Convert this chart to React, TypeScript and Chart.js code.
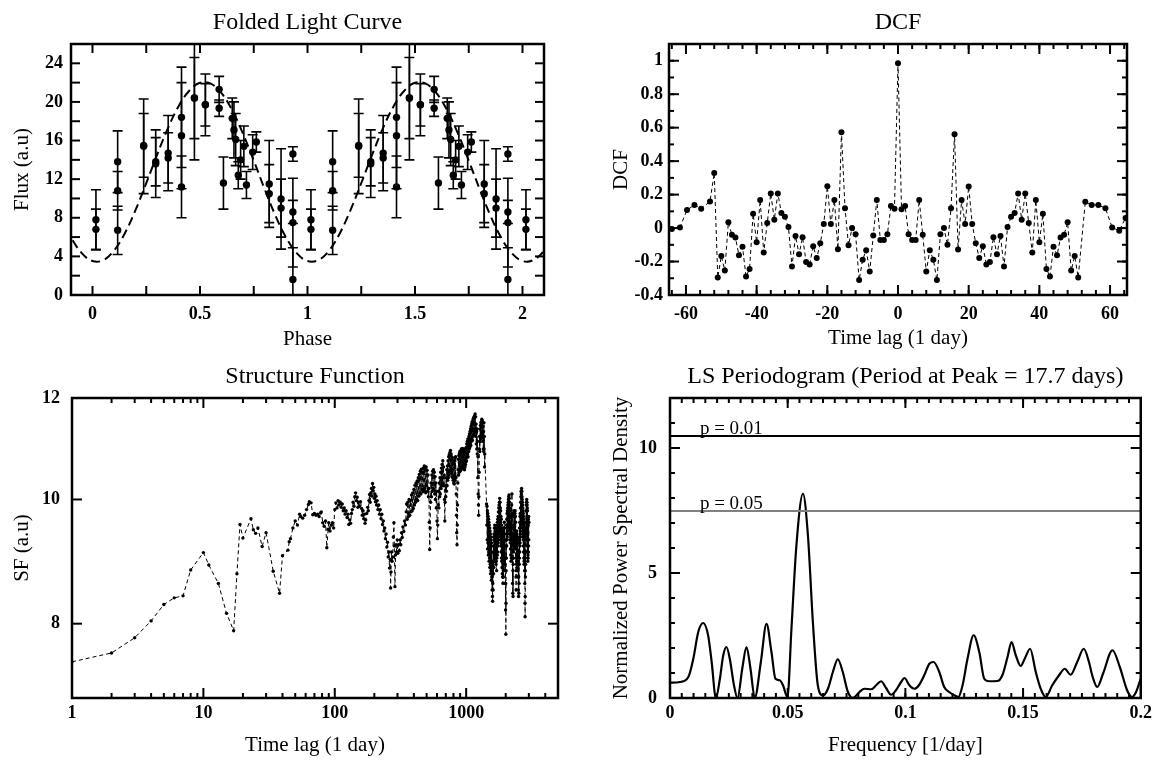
import React, { useEffect, useRef } from "react";
import { Chart, registerables } from "chart.js";

Chart.register(...registerables);

const W = 1157;
const H = 761;
const SERIF = '"Liberation Serif", "Times New Roman", Times, serif';
const AXW = 60; // width reserved for y tick labels
const AXH = 40; // height reserved for x tick labels

// ---------------- Folded light curve ----------------
const LC_PHASE = [0.016, 0.016, 0.117, 0.117, 0.117, 0.238, 0.238, 0.294, 0.294, 0.352, 0.352, 0.414, 0.414, 0.414, 0.474, 0.474, 0.525, 0.525, 0.589, 0.589, 0.609, 0.650, 0.658, 0.666, 0.678, 0.689, 0.704, 0.716, 0.745, 0.762, 0.822, 0.822, 0.877, 0.877, 0.932, 0.932, 0.932, 0.932];
const LC_FLUX = [7.8, 6.8, 13.8, 10.8, 6.7, 15.4, 15.5, 13.6, 13.8, 14.7, 14.2, 18.4, 16.5, 11.2, 20.4, 20.4, 19.7, 19.7, 21.3, 19.35, 11.6, 18.3, 17.1, 16.1, 12.4, 14.0, 15.4, 11.4, 14.8, 15.85, 11.5, 10.5, 9.95, 9.0, 14.6, 8.6, 7.5, 1.6];
const LC_ERR = [3.1, 2.1, 3.2, 2.0, 2.5, 4.9, 3.3, 3.5, 2.5, 3.9, 2.6, 5.2, 5.5, 3.2, 4.2, 6.4, 3.2, 2.2, 1.35, 0.85, 2.7, 2.1, 2.9, 2.7, 1.4, 2.0, 2.1, 1.4, 1.8, 1.05, 4.5, 3.0, 5.2, 3.0, 0.75, 1.2, 4.6, 3.3];
const MODEL_PHASE = [0, 0.05, 0.1, 0.15, 0.2, 0.25, 0.3, 0.35, 0.4, 0.45, 0.5, 0.55, 0.6, 0.65, 0.7, 0.75, 0.8, 0.85, 0.9, 0.95];
const MODEL_FLUX = [3.52, 3.61, 4.6, 6.38, 8.79, 11.58, 14.49, 17.23, 19.53, 21.16, 21.98, 21.89, 20.9, 19.12, 16.71, 13.92, 11.01, 8.27, 5.97, 4.34];
const LC_X_LABELS = [0, 0.5, 1, 1.5, 2];
const LC_Y_LABELS = [0, 4, 8, 12, 16, 20, 24];
const LC_CYCLES = [-1, 0, 1, 2];

// ---------------- DCF ----------------
const DCF_POINTS: [number, number][] = [
  [-66, 0.06], [-64, -0.006], [-61.7, 0.004], [-59.7, 0.108], [-57.6, 0.138], [-55.7, 0.116], [-53.2, 0.159],
  [-52, 0.329], [-51, -0.295], [-50, -0.167], [-49, -0.254], [-48, 0.035], [-47, -0.04], [-46, -0.057], [-45, -0.163],
  [-44, -0.112], [-43, -0.29], [-42, -0.244], [-41, 0.085], [-40, -0.085], [-39, 0.167], [-38, -0.146], [-37, 0.03],
  [-36, 0.207], [-35, 0.05], [-34, 0.207], [-33, 0.09], [-32, 0.067], [-31, 0.006], [-30, -0.23], [-29, -0.047],
  [-28, -0.157], [-27, -0.055], [-26, -0.203], [-25, -0.217], [-24, -0.108], [-23, -0.179], [-22, -0.091], [-21, 0.024],
  [-20, 0.25], [-19, 0.024], [-18, 0.167], [-17, -0.126], [-16, 0.573], [-15, 0.118], [-14, -0.102], [-13, 0],
  [-12, -0.037], [-11, -0.311], [-10, -0.189], [-9, -0.132], [-8, -0.26], [-7, -0.045], [-6, 0.167], [-5, -0.071],
  [-4, -0.071], [-3, -0.037], [-2, 0.132], [-1, 0.116], [0, 0.985], [1, 0.112], [2, 0.132], [3, -0.037],
  [4, -0.071], [5, -0.071], [6, 0.167], [7, -0.04], [8, -0.26], [9, -0.132], [10, -0.189], [11, -0.311],
  [12, -0.037], [13, 0], [14, -0.1], [15, 0.118], [16, 0.56], [17, -0.128], [18, 0.167], [19, 0.024],
  [20, 0.248], [21, 0.024], [22, -0.091], [23, -0.179], [24, -0.108], [25, -0.217], [26, -0.203], [27, -0.055],
  [28, -0.157], [29, -0.047], [30, -0.23], [31, 0.006], [32, 0.067], [33, 0.09], [34, 0.207], [35, 0.05],
  [36, 0.207], [37, 0.03], [38, -0.146], [39, 0.167], [40, -0.085], [41, 0.085], [42, -0.244], [43, -0.29],
  [44, -0.112], [45, -0.163], [46, -0.057], [47, -0.04], [48, 0.035], [49, -0.254], [50, -0.167], [51, -0.295],
  [53, 0.157], [54.8, 0.138], [56.7, 0.138], [58.7, 0.118], [60.6, 0.004], [62.6, -0.016], [64.4, 0.06],
];
const DCF_X_LABELS = [-60, -40, -20, 0, 20, 40, 60];
const DCF_Y_LABELS = [-0.4, -0.2, 0, 0.2, 0.4, 0.6, 0.8, 1];

// ---------------- Structure function ----------------
// sparse part: [lag (days), SF]
const SF_POINTS: [number, number][] = [
  [1, 7.47], [2, 7.59], [3, 7.8], [4, 8.04], [5, 8.28], [6, 8.38], [7, 8.41], [8, 8.81], [10, 9.09], [11, 8.89],
  [13, 8.6], [15, 8.15], [17, 7.9], [18, 8.75], [19, 9.56], [20, 9.33], [23, 9.66], [24, 9.47], [25, 9.41], [26, 9.5],
  [28, 9.19], [30, 9.42], [34, 8.79], [38, 8.45], [40, 9.04], [44, 9.13], [45, 9.27], [46, 9.32], [48, 9.5], [50, 9.62],
  [52, 9.55], [54, 9.74], [55, 9.7], [57, 9.67], [59, 9.72], [61, 9.82], [63, 9.91], [64, 9.96], [66, 9.94], [68, 9.73],
  [70, 9.75], [72, 9.72], [74, 9.74], [76, 9.7], [78, 9.76], [79, 9.78], [81, 9.59], [83, 9.53], [85, 9.62], [87, 9.17],
  [89, 9.48], [90, 9.59], [92, 9.45], [94, 9.55], [96, 9.59], [98, 9.5], [100, 9.82],
  [102, 9.94], [104, 9.85], [106, 9.98], [108, 9.9], [110, 9.95], [112, 9.86], [114, 9.92], [116, 9.8], [118, 9.85], [120, 9.74],
  [122, 9.8], [124, 9.68], [126, 9.74], [128, 9.56], [130, 9.64], [132, 9.58], [134, 9.75], [136, 9.82], [138, 9.95], [140, 9.88],
  [142, 10.05], [144, 10.12], [146, 9.98], [148, 10.04], [150, 9.86], [152, 9.95], [154, 9.88], [157, 9.96], [160, 9.84], [162, 9.72],
  [164, 9.8], [166, 9.66], [168, 9.74], [170, 9.58], [172, 9.64], [175, 9.75], [178, 9.86], [180, 9.8], [182, 9.98], [184, 10.09],
  [186, 9.95], [188, 10.12], [190, 10.2], [192, 10.06], [194, 10.29], [196, 10.16], [198, 10.22], [200, 10.02], [202, 10.1], [204, 9.96],
  [206, 10.06], [208, 9.9], [210, 9.98], [213, 9.82], [216, 9.9], [219, 9.74], [222, 9.82], [225, 9.66], [228, 9.74], [231, 9.56],
  [234, 9.62], [237, 9.45], [240, 9.5], [243, 9.32], [246, 9.4], [249, 9.18], [252, 9.26], [255, 9.02], [258, 9.1], [261, 8.84],
  [264, 8.98], [266, 8.53], [268, 8.78], [270, 9.1], [273, 8.95], [276, 9.02], [279, 9.35], [282, 9.59], [284, 9.2], [287, 8.55],
  [290, 9.05], [293, 9.22], [296, 9.1], [299, 9.3], [302, 9.08], [306, 9.22], [310, 9.12], [314, 9.3], [318, 9.22], [322, 9.42],
  [326, 9.34], [330, 9.52], [335, 9.44], [340, 9.62], [345, 9.55], [350, 9.78],
];
// dense part A: lags 352..1000 every 4 days
const SF_A_START = 352;
const SF_A_STEP = 4;
const SF_A_VALUES = [
  9.92, 9.65, 9.95, 9.7, 10.0, 9.72, 9.98, 9.78, 10.08, 9.8,
  10.12, 9.84, 10.18, 9.9, 10.26, 9.95, 10.3, 10.0, 10.34, 9.98,
  10.4, 10.06, 10.46, 10.12, 10.52, 10.1, 10.56, 10.18, 10.5, 10.14,
  10.58, 10.16, 10.62, 10.2, 10.55, 10.12, 10.6, 10.25, 10.54, 10.15,
  10.45, 10.05, 10.2, 9.6, 9.14, 9.5, 9.95, 10.3, 10.05, 10.45,
  10.15, 10.52, 10.2, 10.55, 10.18, 10.5, 10.1, 10.42, 10.0, 10.3,
  9.85, 10.15, 9.62, 9.32, 9.55, 9.9, 10.15, 9.85, 10.3, 10.05,
  10.4, 10.1, 10.5, 10.2, 10.58, 10.25, 10.65, 10.3, 10.72, 10.4,
  10.6, 10.25, 10.45, 10.0, 9.62, 9.95, 10.25, 10.05, 10.4, 10.15,
  10.55, 10.25, 10.62, 10.35, 10.72, 10.4, 10.8, 10.45, 10.84, 10.5,
  10.88, 10.52, 10.92, 10.55, 10.85, 10.48, 10.8, 10.42, 10.78, 10.4,
  10.72, 10.35, 10.7, 10.3, 10.66, 10.28, 10.72, 10.35, 10.78, 10.42,
  10.8, 10.4, 10.1, 9.72, 9.42, 9.22, 9.55, 9.9, 10.3, 10.55,
  10.75, 10.45, 10.82, 10.5, 10.86, 10.55, 10.9, 10.52, 10.88, 10.58,
  10.92, 10.55, 10.95, 10.6, 10.9, 10.58, 10.96, 10.62, 10.92, 10.6,
  10.95, 10.62, 10.9, 10.58, 10.94, 10.55, 10.88, 10.6, 10.92, 10.65,
  10.95, 10.7, 10.98,
];
// dense part B: lags 1005..1385 every 5 days
const SF_B_START = 1005;
const SF_B_STEP = 5;
const SF_B_VALUES = [
  10.72, 11.05, 10.78, 11.1, 10.85, 11.15, 10.8, 11.12, 10.9, 11.2,
  10.95, 11.25, 10.98, 11.3, 11.05, 11.35, 11.02, 11.4, 11.1, 11.45,
  11.15, 11.5, 11.12, 11.48, 11.2, 11.55, 11.25, 11.58, 11.22, 11.6,
  11.3, 11.62, 11.35, 11.66, 11.28, 11.6, 11.2, 11.45, 11.05, 11.3,
  10.95, 11.35, 10.85, 11.1, 10.4, 10.8, 10.1, 9.9, 9.72, 10.05,
  10.5, 10.95, 11.2, 10.9, 11.35, 11.1, 11.42, 11.15, 11.48, 11.2,
  11.5, 11.22, 11.55, 11.25, 11.52, 11.18, 11.48, 11.1, 11.4, 10.95,
  11.3, 10.9, 11.48, 10.95, 11.2, 10.6, 10.85,
];
const SF_BRIDGE: [number, number][] = [[1430, 9.92]];
// dense part C: lags 1435..3000 every 5 days
const SF_C_START = 1435;
const SF_C_STEP = 5;
const SF_C_VALUES = [
  9.55, 9.88, 9.3, 9.8, 9.15, 9.75, 9.25, 9.7, 9.05, 9.65,
  9.1, 9.6, 8.95, 9.55, 9.0, 9.5, 8.85, 9.45, 8.9, 9.4,
  8.75, 9.35, 8.8, 9.3, 8.65, 9.25, 8.7, 9.1, 8.5, 8.9,
  8.4, 8.33, 8.6, 8.95, 8.5, 9.2, 8.75, 9.35, 8.85, 9.4,
  8.95, 9.5, 9.0, 9.55, 9.05, 9.45, 8.95, 9.5, 9.1, 9.4,
  8.9, 9.45, 8.95, 9.35, 8.8, 9.5, 9.0, 9.55, 9.05, 9.6,
  9.1, 9.65, 9.2, 9.7, 9.25, 9.78, 9.3, 9.85, 9.35, 9.9,
  9.4, 9.95, 9.45, 10.02, 9.5, 9.95, 9.4, 9.85, 9.3, 9.8,
  9.2, 9.7, 9.1, 9.65, 9.0, 9.55, 8.95, 9.5, 8.85, 9.45,
  8.75, 9.4, 8.7, 9.3, 8.6, 9.25, 8.7, 9.35, 8.8, 9.45,
  8.9, 9.5, 8.95, 9.6, 9.0, 9.5, 8.9, 9.4, 8.8, 9.3,
  8.6, 9.0, 8.2, 8.6, 7.85, 8.3, 8.8, 9.2, 9.0, 9.55,
  9.2, 9.65, 9.3, 9.75, 9.35, 9.8, 9.4, 9.85, 9.45, 9.9,
  9.5, 9.95, 9.55, 10.0, 9.5, 10.05, 9.6, 10.08, 9.55, 10.02,
  9.5, 9.95, 9.4, 9.85, 9.3, 9.8, 9.25, 9.7, 9.15, 9.6,
  9.05, 9.55, 8.95, 9.5, 9.0, 9.7, 9.2, 9.9, 9.4, 10.1,
  9.3, 9.75, 9.0, 9.4, 8.6, 9.0, 8.45, 8.8, 8.4, 8.9,
  9.0, 9.4, 9.1, 9.55, 9.2, 9.7, 9.3, 9.8, 9.25, 9.75,
  9.2, 9.7, 9.15, 9.75, 9.25, 9.8, 9.3, 9.7, 9.15, 9.6,
  9.0, 9.4, 8.7, 8.5, 8.8, 9.2, 8.9, 9.35, 9.0, 9.45,
  8.95, 9.4, 8.85, 9.3, 8.8, 9.25, 8.9, 9.35, 8.95, 9.3,
  8.7, 9.1, 8.5, 8.9, 8.4, 8.7, 8.45, 8.9, 8.6, 9.1,
  8.9, 9.3, 9.0, 9.5, 9.1, 9.6, 9.2, 9.7, 9.25, 9.75,
  9.35, 9.85, 9.4, 9.95, 9.5, 10.05, 9.6, 10.15, 9.7, 10.1,
  9.65, 10.2, 9.7, 10.15, 9.65, 10.05, 9.6, 10.0, 9.55, 9.95,
  9.45, 9.9, 9.4, 9.85, 9.35, 9.8, 9.3, 9.75, 9.2, 9.7,
  9.1, 9.65, 9.0, 9.55, 8.9, 9.5, 8.95, 9.6, 9.0, 9.5,
  8.8, 9.3, 8.6, 8.9, 8.3, 8.1, 8.4, 8.8, 8.7, 9.1,
  8.9, 9.4, 9.1, 9.6, 9.3, 9.8, 9.4, 9.9, 9.45, 9.95,
  9.5, 10.0, 9.4, 9.95, 9.3, 9.9, 9.2, 9.85, 9.1, 9.8,
  9.0, 9.7, 8.95, 9.6, 9.05, 9.55, 9.0, 9.65, 9.1, 9.6,
  9.2, 9.7, 9.3, 9.6,
];
const SF_X_LABELS = [1, 10, 100, 1000];
const SF_Y_LABELS = [8, 10, 12];

// ---------------- LS periodogram ----------------
const LS_POINTS: [number, number][] = [
  [0, 0.61], [0.0042, 0.64], [0.0078, 0.84], [0.0099, 1.57], [0.012, 2.64], [0.0141, 3.0], [0.0162, 2.5], [0.0177, 1.44],
  [0.0195, 0.0], [0.0212, 0.77], [0.0226, 1.7], [0.024, 2.04], [0.0254, 1.57], [0.0272, 0.5], [0.0287, 0.0], [0.0307, 1.17],
  [0.0325, 2.04], [0.0342, 1.17], [0.036, 0.0], [0.0386, 1.44], [0.041, 2.97], [0.0431, 1.84], [0.0448, 0.77], [0.0466, 0.71],
  [0.048, 0.51], [0.0499, 0.04], [0.0516, 2.77], [0.0537, 6.1], [0.0565, 8.17], [0.0586, 6.5], [0.0607, 3.04], [0.0628, 0.51],
  [0.065, 0.1], [0.0671, 0.37], [0.0692, 1.04], [0.0713, 1.55], [0.0734, 1.04], [0.0756, 0.24], [0.0777, 0.0], [0.0805, 0.24],
  [0.0826, 0.37], [0.0855, 0.35], [0.0876, 0.51], [0.0897, 0.67], [0.0918, 0.4], [0.0939, 0.13], [0.096, 0.31], [0.0982, 0.64],
  [0.0996, 0.8], [0.1017, 0.51], [0.1038, 0.37], [0.1059, 0.53], [0.108, 0.91], [0.1102, 1.37], [0.112, 1.44], [0.1144, 1.04],
  [0.1165, 0.44], [0.1186, 0.24], [0.1208, 0.11], [0.1225, 0.04], [0.1243, 0.51], [0.1264, 1.57], [0.129, 2.51], [0.1314, 1.84],
  [0.1335, 0.77], [0.1356, 0.67], [0.1391, 0.68], [0.1412, 0.91], [0.1434, 1.64], [0.1451, 2.24], [0.1469, 1.71], [0.149, 1.28],
  [0.1507, 1.57], [0.153, 1.97], [0.1554, 1.04], [0.1575, 0.37], [0.1596, 0.04], [0.1624, 0.51], [0.1653, 0.91], [0.1677, 1.17],
  [0.1702, 0.93], [0.173, 1.44], [0.1758, 1.97], [0.178, 1.44], [0.1794, 0.9], [0.1815, 0.44], [0.184, 0.98], [0.188, 1.91],
  [0.1911, 1.24], [0.1942, 0.31], [0.1963, 0.04], [0.198, 0.24], [0.2, 0.78],
];
const LS_X_LABELS = [0, 0.05, 0.1, 0.15, 0.2];
const LS_Y_LABELS = [0, 5, 10];
const P_LEVELS = [10.48, 7.48];
const P_LABELS = ["p = 0.01", "p = 0.05"];
const P_COLORS = ["#000000", "#808080"];
const P_LABEL_X = 0.0127;

// ---------------- helpers ----------------
const steps = (a: number, b: number, s: number) => {
  const out: number[] = [];
  for (let i = 0; a + i * s <= b + 1e-9; i++) out.push(+(a + i * s).toFixed(6));
  return out;
};
const logMinors = (maxV: number) => {
  const out: number[] = [];
  [1, 10, 100, 1000].forEach((d) => [2, 3, 4, 5, 6, 7, 8, 9].forEach((m) => { if (m * d < maxV) out.push(m * d); }));
  return out;
};
const segment = (start: number, step: number, vals: number[]) => vals.map((v, i) => ({ x: start + i * step, y: v }));

type Rect = { left: number; top: number; right: number; bottom: number };

function axis(type: string, min: number, max: number, labels: number[], pad: number, dir: "x" | "y") {
  return {
    type,
    min,
    max,
    position: dir === "x" ? "bottom" : "left",
    grid: { display: false, drawTicks: false },
    border: { display: false },
    title: { display: false },
    ticks: {
      autoSkip: false,
      maxRotation: 0,
      minRotation: 0,
      padding: pad,
      color: "#000",
      font: { family: SERIF, size: 18, weight: "bold" },
      callback: (_v: any, i: number) => String(labels[i]),
    },
    afterBuildTicks: (s: any) => {
      s.ticks = labels.map((v) => ({ value: v }));
    },
    afterFit: (s: any) => {
      if (dir === "x") s.height = AXH;
      else s.width = AXW;
    },
  };
}

const errorBarsPlugin = {
  id: "errorBars",
  afterDatasetsDraw(chart: any) {
    const { ctx, chartArea: a } = chart;
    const xs = chart.scales.x;
    const ys = chart.scales.y;
    chart.data.datasets.forEach((ds: any) => {
      if (!ds.errs) return;
      ctx.save();
      ctx.beginPath();
      ctx.rect(a.left, a.top, a.right - a.left, a.bottom - a.top);
      ctx.clip();
      ctx.strokeStyle = "#000";
      ctx.lineWidth = 1.6;
      ds.data.forEach((pt: any, i: number) => {
        const e = ds.errs[i];
        const px = xs.getPixelForValue(pt.x);
        const y1 = ys.getPixelForValue(pt.y + e);
        const y2 = ys.getPixelForValue(pt.y - e);
        ctx.beginPath();
        ctx.moveTo(px, y1);
        ctx.lineTo(px, y2);
        ctx.moveTo(px - 5, y1);
        ctx.lineTo(px + 5, y1);
        ctx.moveTo(px - 5, y2);
        ctx.lineTo(px + 5, y2);
        ctx.stroke();
      });
      ctx.restore();
    });
  },
};

const decorPlugin = {
  id: "decor",
  afterDraw(chart: any, _args: any, o: any) {
    const { ctx, chartArea: a } = chart;
    const xs = chart.scales.x;
    const ys = chart.scales.y;
    ctx.save();
    ctx.strokeStyle = "#000";
    const seg = (x1: number, y1: number, x2: number, y2: number) => {
      ctx.beginPath();
      ctx.moveTo(x1, y1);
      ctx.lineTo(x2, y2);
      ctx.stroke();
    };
    ctx.lineWidth = 2;
    const xt = (vals: number[], len: number) =>
      vals.forEach((v) => {
        const p = xs.getPixelForValue(v);
        if (p < a.left + 1 || p > a.right - 1) return;
        seg(p, a.bottom, p, a.bottom - len);
        seg(p, a.top, p, a.top + len);
      });
    const yt = (vals: number[], len: number) =>
      vals.forEach((v) => {
        const p = ys.getPixelForValue(v);
        if (p < a.top + 1 || p > a.bottom - 1) return;
        seg(a.left, p, a.left + len, p);
        seg(a.right, p, a.right - len, p);
      });
    xt(o.xMinor, o.minorLen);
    xt(o.xMajor, o.majorLen);
    yt(o.yMinor, o.minorLen);
    yt(o.yMajor, o.majorLen);
    ctx.lineWidth = 2.5;
    ctx.strokeRect(a.left, a.top, a.right - a.left, a.bottom - a.top);

    ctx.fillStyle = "#000";
    ctx.textBaseline = "alphabetic";
    ctx.textAlign = "center";
    const cx = (a.left + a.right) / 2;
    const cy = (a.top + a.bottom) / 2;
    ctx.font = `24px ${SERIF}`;
    ctx.fillText(o.title, cx, o.titleY);
    ctx.font = `21px ${SERIF}`;
    ctx.fillText(o.xTitle, cx, o.xTitleY);
    ctx.save();
    ctx.translate(o.yTitleX, cy);
    ctx.rotate(-Math.PI / 2);
    ctx.fillText(o.yTitle, 0, 0);
    ctx.restore();
    (o.notes || []).forEach((n: any) => {
      ctx.font = `19px ${SERIF}`;
      ctx.textAlign = "left";
      ctx.fillText(n.text, xs.getPixelForValue(n.x), ys.getPixelForValue(n.y) - 2);
    });
    ctx.restore();
  },
};

function baseOptions(r: Rect, x: any, y: any, decor: any) {
  return {
    responsive: false,
    animation: false,
    events: [],
    layout: {
      autoPadding: false,
      padding: { left: r.left - AXW, top: r.top, right: W - r.right, bottom: H - r.bottom - AXH },
    },
    plugins: { legend: { display: false }, tooltip: { enabled: false }, title: { display: false }, decor },
    scales: { x, y },
  };
}

// ---------------- chart configs ----------------
function lightCurveConfig() {
  const X_MIN = -0.1;
  const X_MAX = 2.1;
  const pts: { x: number; y: number }[] = [];
  const errs: number[] = [];
  [0, 1, 2].forEach((c) =>
    LC_PHASE.forEach((p, i) => {
      const x = p + c;
      if (x <= X_MAX) {
        pts.push({ x, y: LC_FLUX[i] });
        errs.push(LC_ERR[i]);
      }
    })
  );
  const model: { x: number; y: number }[] = [];
  LC_CYCLES.forEach((c) =>
    MODEL_PHASE.forEach((p, i) => {
      const x = p + c;
      if (x >= X_MIN - 0.06 && x <= X_MAX + 0.06) model.push({ x, y: MODEL_FLUX[i] });
    })
  );
  const r = { left: 71, top: 44, right: 544, bottom: 295 };
  return {
    type: "scatter",
    data: {
      datasets: [
        { data: model, showLine: true, borderColor: "#000", borderWidth: 2, borderDash: [9, 5], pointRadius: 0, tension: 0.4, clip: 0 },
        { data: pts, errs, showLine: false, pointRadius: 3.7, pointBackgroundColor: "#000", pointBorderWidth: 0, clip: 0 },
      ],
    },
    options: baseOptions(
      r,
      axis("linear", X_MIN, X_MAX, LC_X_LABELS, 9, "x"),
      axis("linear", 0, 26, LC_Y_LABELS, 8, "y"),
      {
        title: "Folded Light Curve", titleY: 29, xTitle: "Phase", xTitleY: 345, yTitle: "Flux (a.u)", yTitleX: 28,
        xMajor: steps(0, 2, 0.25), xMinor: [], yMajor: steps(0, 26, 2), yMinor: [], majorLen: 9, minorLen: 5,
      }
    ),
    plugins: [errorBarsPlugin, decorPlugin],
  };
}

function dcfConfig() {
  const r = { left: 669, top: 44, right: 1127, bottom: 295 };
  return {
    type: "scatter",
    data: {
      datasets: [
        {
          data: DCF_POINTS.map(([x, y]) => ({ x, y })),
          showLine: true, borderColor: "#000", borderWidth: 1, borderDash: [4, 3], tension: 0,
          pointRadius: 3, pointBackgroundColor: "#000", pointBorderWidth: 0, clip: 0,
        },
      ],
    },
    options: baseOptions(
      r,
      axis("linear", -64.8, 64.8, DCF_X_LABELS, 9, "x"),
      axis("linear", -0.4, 1.1, DCF_Y_LABELS, 6, "y"),
      {
        title: "DCF", titleY: 29, xTitle: "Time lag (1 day)", xTitleY: 344, yTitle: "DCF", yTitleX: 627,
        xMajor: DCF_X_LABELS, xMinor: steps(-64, 64, 4), yMajor: DCF_Y_LABELS, yMinor: steps(-0.4, 1.1, 0.1),
        majorLen: 10, minorLen: 5,
      }
    ),
    plugins: [decorPlugin],
  };
}

function sfConfig() {
  const r = { left: 72, top: 398, right: 558, bottom: 698 };
  const data = [
    ...SF_POINTS.map(([x, y]) => ({ x, y })),
    ...segment(SF_A_START, SF_A_STEP, SF_A_VALUES),
    ...segment(SF_B_START, SF_B_STEP, SF_B_VALUES),
    ...SF_BRIDGE.map(([x, y]) => ({ x, y })),
    ...segment(SF_C_START, SF_C_STEP, SF_C_VALUES),
  ];
  return {
    type: "scatter",
    data: {
      datasets: [
        {
          data,
          showLine: true, borderColor: "#000", borderWidth: 1, borderDash: [4, 3], tension: 0,
          pointRadius: 1.7, pointBackgroundColor: "#000", pointBorderWidth: 0, clip: 0,
        },
      ],
    },
    options: baseOptions(
      r,
      axis("logarithmic", 1, 5000, SF_X_LABELS, 5, "x"),
      axis("logarithmic", 7, 12, SF_Y_LABELS, 12, "y"),
      {
        title: "Structure Function", titleY: 383, xTitle: "Time lag (1 day)", xTitleY: 751, yTitle: "SF (a.u)", yTitleX: 28,
        xMajor: SF_X_LABELS, xMinor: logMinors(5000), yMajor: SF_Y_LABELS, yMinor: [], majorLen: 10, minorLen: 5,
      }
    ),
    plugins: [decorPlugin],
  };
}

function lsConfig() {
  const r = { left: 670, top: 398, right: 1142, bottom: 698 };
  const pSets = P_LEVELS.map((lv, i) => ({
    data: [{ x: 0, y: lv }, { x: 0.2, y: lv }],
    showLine: true, borderColor: P_COLORS[i], borderWidth: 2, pointRadius: 0, clip: 0,
  }));
  return {
    type: "scatter",
    data: {
      datasets: [
        ...pSets,
        {
          data: LS_POINTS.map(([x, y]) => ({ x, y })),
          showLine: true, borderColor: "#000", borderWidth: 2.2, pointRadius: 0, cubicInterpolationMode: "monotone", clip: 0,
        },
      ],
    },
    options: baseOptions(
      r,
      axis("linear", 0, 0.2, LS_X_LABELS, 5, "x"),
      axis("linear", 0, 12, LS_Y_LABELS, 13, "y"),
      {
        title: "LS Periodogram (Period at Peak = 17.7 days)", titleY: 383, xTitle: "Frequency [1/day]", xTitleY: 751,
        yTitle: "Normalized Power Spectral Density", yTitleX: 627,
        xMajor: LS_X_LABELS, xMinor: steps(0, 0.2, 0.005), yMajor: LS_Y_LABELS, yMinor: steps(0, 12, 1),
        majorLen: 10, minorLen: 5,
        notes: P_LABELS.map((t, i) => ({ text: t, x: P_LABEL_X, y: P_LEVELS[i] })),
      }
    ),
    plugins: [decorPlugin],
  };
}

function Panel({ make }: { make: () => any }) {
  const ref = useRef<HTMLCanvasElement>(null);
  useEffect(() => {
    const chart = new Chart(ref.current as HTMLCanvasElement, make());
    return () => chart.destroy();
  }, [make]);
  return (
    <canvas
      ref={ref}
      width={W}
      height={H}
      style={{ position: "absolute", left: 0, top: 0, width: W, height: H }}
    />
  );
}

export default function App() {
  return (
    <div style={{ position: "absolute", left: 0, top: 0, width: W, height: H, background: "#fff", overflow: "hidden" }}>
      <Panel make={lightCurveConfig} />
      <Panel make={dcfConfig} />
      <Panel make={sfConfig} />
      <Panel make={lsConfig} />
    </div>
  );
}
